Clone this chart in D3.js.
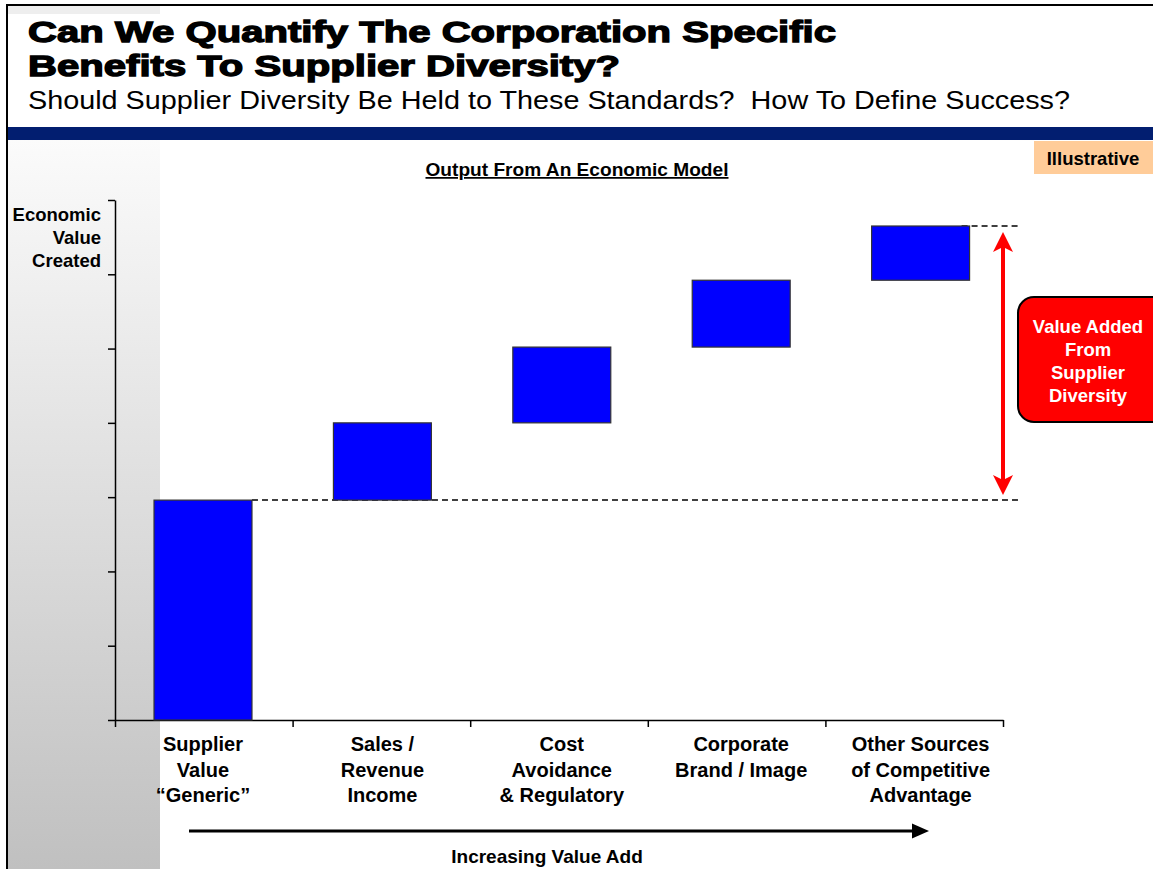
<!DOCTYPE html>
<html>
<head>
<meta charset="utf-8">
<script src="https://cdn.jsdelivr.net/npm/d3@7"></script>
<style>
  html, body { margin: 0; padding: 0; background: #fff; }
  svg { display: block; }
  text { font-family: "Liberation Sans", Arial, sans-serif; white-space: pre; }
</style>
</head>
<body>
<svg id="chart" width="1153" height="869"></svg>
<script>
// ---------- data ----------
const categories = [
  ["Supplier", "Value", "\u201CGeneric\u201D"],
  ["Sales /", "Revenue", "Income"],
  ["Cost", "Avoidance", "& Regulatory"],
  ["Corporate", "Brand / Image"],
  ["Other Sources", "of Competitive", "Advantage"]
];
const increments = [2.96, 1.04, 1.02, 0.90, 0.73];   // waterfall steps
const yTicks = [0, 1, 2, 3, 4, 5, 6, 7];
const titleLines = ["Can We Quantify The Corporation Specific", "Benefits To Supplier Diversity?"];
const subtitle = "Should Supplier Diversity Be Held to These Standards?  How To Define Success?";
const chartTitle = "Output From An Economic Model";
const yLabel = ["Economic", "Value", "Created"];
const calloutLines = ["Value Added", "From", "Supplier", "Diversity"];
const xLabel = "Increasing Value Add";
const badge = "Illustrative";

// ---------- derived waterfall ----------
let run = 0;
const bars = increments.map((d, i) => { const s = run; run += d; return { i, start: s, end: run }; });
const baseTotal = bars[0].end;
const grandTotal = run;

const svg = d3.select("#chart");
const defs = svg.append("defs");
const grad = defs.append("linearGradient").attr("id", "panelGrad").attr("x1", 0).attr("y1", 0).attr("x2", 0).attr("y2", 1);
grad.append("stop").attr("offset", "0%").attr("stop-color", "#fbfbfb");
grad.append("stop").attr("offset", "100%").attr("stop-color", "#c0c0c0");

// left gray panel
svg.append("rect").attr("x", 8).attr("y", 140).attr("width", 152).attr("height", 729).attr("fill", "url(#panelGrad)");
// faint logo strip
svg.append("rect").attr("x", 8).attr("y", 6).attr("width", 152).attr("height", 8).attr("fill", "#eeeeee");

// borders
svg.append("line").attr("x1", 7).attr("x2", 7).attr("y1", 4).attr("y2", 869).attr("stroke", "#000").attr("stroke-width", 2);
svg.append("line").attr("x1", 6).attr("x2", 1153).attr("y1", 5).attr("y2", 5).attr("stroke", "#000").attr("stroke-width", 2);

// header bar
svg.append("rect").attr("x", 8).attr("y", 127).attr("width", 1145).attr("height", 13).attr("fill", "#021e70");

// title
titleLines.forEach((t, i) => {
  svg.append("text").attr("x", 28).attr("y", 42 + i * 34)
    .attr("font-size", 30).attr("font-weight", "bold")
    .attr("stroke", "#000").attr("stroke-width", 1.3)
    .attr("textLength", i === 0 ? 808 : 592).attr("lengthAdjust", "spacingAndGlyphs")
    .text(t);
});
svg.append("text").attr("x", 28).attr("y", 109).attr("font-size", 25.5)
  .attr("textLength", 1042).attr("lengthAdjust", "spacingAndGlyphs").text(subtitle);

// illustrative badge
svg.append("rect").attr("x", 1034).attr("y", 141).attr("width", 119).attr("height", 33).attr("fill", "#ffcc99");
svg.append("text").attr("x", 1093).attr("y", 165).attr("text-anchor", "middle")
  .attr("font-size", 18.5).attr("font-weight", "bold").text(badge);

// chart title
svg.append("text").attr("x", 577).attr("y", 176).attr("text-anchor", "middle")
  .attr("font-size", 17.5).attr("font-weight", "bold").attr("text-decoration", "underline")
  .attr("textLength", 303).attr("lengthAdjust", "spacingAndGlyphs").text(chartTitle);

// ---------- scales ----------
const x = d3.scaleBand().domain(d3.range(categories.length)).range([113.3, 1010.3]).paddingInner(0.454).paddingOuter(0.227);
const xb = d3.scaleLinear().domain([0, categories.length]).range([115, 1003]);
const y = d3.scaleLinear().domain([0, 7]).range([720, 200]);

// y axis
const yAxis = svg.append("g").attr("transform", "translate(115,0)")
  .call(d3.axisLeft(y).tickValues(yTicks).tickSize(7).tickSizeOuter(0).tickFormat(""));
yAxis.selectAll("path, line").attr("stroke", "#000").attr("stroke-width", 1.5);

// x axis (ticks at category boundaries)
const xAxis = svg.append("g").attr("transform", "translate(0,720)")
  .call(d3.axisBottom(xb).tickValues(d3.range(categories.length + 1)).tickSize(7).tickSizeOuter(0).tickFormat(""));
xAxis.selectAll("path, line").attr("stroke", "#000").attr("stroke-width", 1.5);

// dashed reference lines
svg.append("line").attr("x1", x(0) + x.bandwidth()).attr("x2", 1018)
  .attr("y1", y(baseTotal)).attr("y2", y(baseTotal))
  .attr("stroke", "#000").attr("stroke-width", 1.5).attr("stroke-dasharray", "6,4");
svg.append("line").attr("x1", x(categories.length - 1) + x.bandwidth() - 8).attr("x2", 1021)
  .attr("y1", y(grandTotal)).attr("y2", y(grandTotal))
  .attr("stroke", "#000").attr("stroke-width", 1.5).attr("stroke-dasharray", "6,4");

// bars
svg.append("g").selectAll("rect").data(bars).join("rect")
  .attr("x", d => x(d.i)).attr("width", x.bandwidth())
  .attr("y", d => y(d.end)).attr("height", d => y(d.start) - y(d.end))
  .attr("fill", "#0000ff").attr("stroke", "#333").attr("stroke-width", 1.2);

// red double arrow
const ax = 1003, aTop = y(grandTotal) + 6, aBot = y(baseTotal) - 5;
svg.append("line").attr("x1", ax).attr("x2", ax).attr("y1", aTop + 14).attr("y2", aBot - 14)
  .attr("stroke", "#ff0000").attr("stroke-width", 4);
svg.append("path").attr("d", `M${ax},${aTop} L${ax + 10},${aTop + 20} L${ax},${aTop + 15} L${ax - 10},${aTop + 20} Z`).attr("fill", "#ff0000");
svg.append("path").attr("d", `M${ax},${aBot} L${ax + 10},${aBot - 20} L${ax},${aBot - 15} L${ax - 10},${aBot - 20} Z`).attr("fill", "#ff0000");

// callout
svg.append("rect").attr("x", 1018).attr("y", 297).attr("width", 150).attr("height", 125).attr("rx", 16)
  .attr("fill", "#ff0000").attr("stroke", "#000").attr("stroke-width", 2);
calloutLines.forEach((t, i) => {
  svg.append("text").attr("x", 1088).attr("y", 333 + i * 23).attr("text-anchor", "middle")
    .attr("font-size", 18.5).attr("font-weight", "bold").attr("fill", "#fff").text(t);
});

// y label
yLabel.forEach((t, i) => {
  svg.append("text").attr("x", 101).attr("y", 220.5 + i * 23).attr("text-anchor", "end")
    .attr("font-size", 18.5).attr("font-weight", "bold").text(t);
});

// category labels
categories.forEach((lines, i) => {
  lines.forEach((t, j) => {
    svg.append("text").attr("x", x(i) + x.bandwidth() / 2).attr("y", 751 + j * 25.5)
      .attr("text-anchor", "middle").attr("font-size", 20).attr("font-weight", "bold").text(t);
  });
});

// bottom arrow
svg.append("line").attr("x1", 189).attr("x2", 914).attr("y1", 831).attr("y2", 831).attr("stroke", "#000").attr("stroke-width", 3);
svg.append("path").attr("d", "M912,823.5 L929,831 L912,838.5 Z").attr("fill", "#000");
svg.append("text").attr("x", 547).attr("y", 863).attr("text-anchor", "middle")
  .attr("font-size", 19).attr("font-weight", "bold").text(xLabel);
</script>
</body>
</html>
